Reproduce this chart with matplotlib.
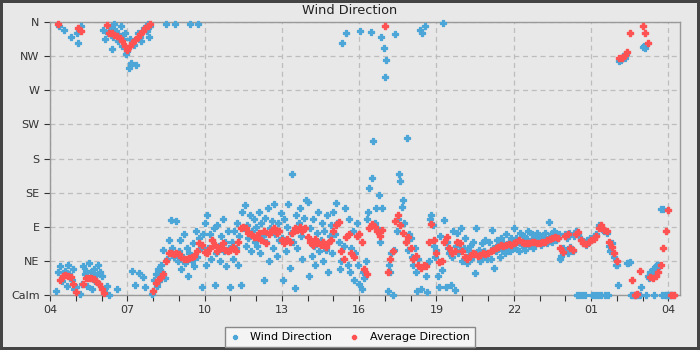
import numpy as np
import matplotlib
matplotlib.use('Agg')
import matplotlib.pyplot as plt
from matplotlib.ticker import MultipleLocator

nan = np.nan

hour_labels = ['04', '07', '10', '13', '16', '19', '22', '01', '04']
dir_labels = ['Calm', 'NE', 'E', 'SE', 'S', 'SW', 'W', 'NW', 'N']

# wind direction in degrees, one sample every 3 min, one row per hour from 04:00
wind_dir = [
    [nan, nan, nan, nan, nan, 5, 30, 355, 38, 18, 25, 350, 32, 12, 40, 28, 340, 20, 35, 8],  # 04
    [10, 345, 333, 2, 355, 15, 38, 28, 32, 12, 42, 22, 30, 8, 35, 18, 26, 40, 15, 30],  # 05
    [25, 350, 5, 338, 12, 345, 0, 352, 325, 340, 358, 348, 8, 335, 342, 355, 328, 338, 345, 318],  # 06
    [322, 300, 338, 306, 32, 330, 13, 304, 345, 29, 340, 335, 24, 352, 10, 348, 358, 340, 355, 2],  # 07
    [5, 20, 28, 12, 35, 18, 40, 30, 60, 22, 357, 48, 72, 55, 99, 62, 50, 357, 97, 45],  # 08
    [58, 72, 35, 50, 80, 42, 62, 25, 55, 357, 45, 68, 38, 85, 50, 357, 75, 62, 10, 80],  # 09
    [95, 40, 105, 62, 80, 48, 72, 88, 13, 55, 92, 65, 45, 78, 100, 58, 70, 38, 85, 62],  # 10
    [11, 70, 48, 85, 62, 95, 40, 78, 13, 110, 88, 119, 65, 92, 75, 105, 58, 85, 100, 70],  # 11
    [90, 65, 110, 55, 95, 78, 20, 102, 70, 115, 45, 88, 98, 62, 120, 80, 52, 95, 72, 108],  # 12
    [75, 20, 100, 58, 90, 120, 36, 82, 160, 70, 9, 105, 62, 95, 115, 78, 48, 102, 88, 125],  # 13
    [123, 25, 88, 52, 100, 65, 40, 82, 110, 58, 72, 95, 45, 85, 60, 105, 30, 78, 92, 55],  # 14
    [110, 80, 121, 95, 70, 35, 45, 333, 65, 115, 345, 40, 100, 30, 62, 85, 20, 55, 95, 40],  # 15
    [15, 348, 8, 30, 22, 45, 100, 110, 141, 347, 154, 203, 95, 115, 88, 132, 70, 340, 115, 326],  # 16
    [287, 310, 5, 40, 30, 55, 0, 60, 344, 85, 100, 160, 150, 116, 125, 95, 70, 207, 60, 80],  # 17
    [75, 50, 40, 62, 30, 5, 48, 350, 8, 345, 38, 355, 25, 4, 45, 100, 105, 92, 65, 50],  # 18
    [60, 25, 11, 78, 33, 359, 99, 11, 70, 62, 55, 13, 50, 85, 7, 65, 82, 55, 60, 88],  # 19
    [45, 62, 75, 50, 42, 58, 65, 48, 70, 55, 29, 88, 52, 60, 45, 68, 50, 58, 72, 48],  # 20
    [55, 70, 48, 86, 62, 36, 58, 72, 66, 50, 75, 60, 68, 55, 80, 62, 70, 58, 75, 65],  # 21
    [88, 62, 75, 70, 58, 82, 66, 72, 78, 60, 74, 85, 65, 70, 80, 62, 76, 68, 82, 72],  # 22
    [72, 66, 78, 70, 82, 74, 68, 96, 76, 80, 70, 84, 78, 72, 75, 80, 48, 52, 62, 58],  # 23
    [80, 75, 55, 82, 64, 60, 58, 78, 84, 0, 80, 0, 74, 0, 68, 0, 66, 72, 70, 75],  # 00
    [74, 0, 78, 0, 80, 0, 92, 90, 0, 86, 84, 0, 82, 0, 65, 58, 68, 55, 50, 40],  # 01
    [40, 13, 308, 310, 312, 315, 313, 318, 42, 42, 43, 0, 0, 0, 0, 0, 0, 0, 0, 11],  # 02
    [327, 328, 326, 0, 25, 22, 30, 28, 35, 0, 38, 40, 40, 38, 114, 0, 114, 0, 0, 0],  # 03
    [0, 0, 0, 0, 0, nan, nan, nan, nan, nan, nan, nan, nan, nan, nan, nan, nan, nan, nan, nan],  # 04
]

# running average direction, one sample every 6 min
avg_dir = [
    [nan, nan, nan, 357, 20, 25, 26, 25, 24, 15],  # 04
    [4, 352, 348, 15, 22, 23, 22, 21, 18, 14],  # 05
    [8, 3, 356, 346, 345, 343, 342, 339, 335, 329],  # 06
    [323, 328, 333, 336, 340, 344, 348, 352, 355, 358],  # 07
    [6, 16, 20, 24, 28, 45, 55, 56, 54, 55],  # 08
    [54, 50, 48, 47, 49, 50, 52, 58, 68, 66],  # 09
    [57, 55, 62, 72, 66, 58, 62, 68, 60, 58],  # 10
    [60, 63, 58, 70, 88, 90, 88, 82, 80, 76],  # 11
    [76, 82, 72, 85, 68, 80, 86, 88, 82, 84],  # 12
    [72, 68, 74, 70, 82, 88, 86, 90, 84, 88],  # 13
    [76, 70, 66, 74, 68, 66, 70, 64, 68, 72],  # 14
    [85, 92, 96, 58, 48, 76, 80, 55, 50, 78],  # 15
    [80, 70, 35, 28, 88, 94, 90, 84, 78, 86],  # 16
    [355, 30, 48, 58, 98, 105, 92, 82, 70, 76],  # 17
    [62, 48, 52, 40, 36, 40, 38, 70, 94, 72],  # 18
    [55, 44, 45, 70, 76, 62, 55, 58, 70, 68],  # 19
    [58, 50, 48, 52, 55, 54, 52, 53, 55, 54],  # 20
    [56, 58, 60, 62, 64, 66, 65, 66, 67, 66],  # 21
    [68, 70, 72, 70, 69, 68, 69, 70, 70, 69],  # 22
    [69, 70, 70, 72, 74, 75, 76, 75, 62, 57],  # 23
    [78, 80, 62, 60, 80, 83, 72, 68, 67, 70],  # 00
    [72, 74, 78, 89, 92, 86, 84, 70, 64, 55],  # 01
    [45, 312, 313, 316, 320, 345, 20, 0, 2, 32],  # 02
    [355, 345, 332, 24, 22, 25, 30, 40, 62, 85],  # 03
    [112, 0, 0, nan, nan, nan, nan, nan, nan, nan],  # 04
]

wind = np.array(wind_dir, dtype=float).ravel()
avg = np.array(avg_dir, dtype=float).ravel()
# hours since 04:00
t_wind = np.arange(wind.size) * 3 / 60
t_avg = np.arange(avg.size) * 6 / 60

bg = '#e8e8e8'
blue = '#4ca6d8'
red = '#ff5252'

fig = plt.figure(figsize=(7, 3.5), dpi=100, facecolor=bg)
fig.patch.set_edgecolor('#444444')
fig.patch.set_linewidth(3)
ax = fig.add_axes([0.0714, 0.157, 0.9, 0.78], facecolor=bg)

# filled plus markers with a same-colour edge so they read as small blobs
ax.scatter(t_wind, wind, marker='P', s=20, color=blue, edgecolors=blue,
           linewidths=0.9, label='Wind Direction', clip_on=False, zorder=3)
ax.scatter(t_avg, avg, marker='P', s=22, color=red, edgecolors=red,
           linewidths=1.0, label='Average Direction', clip_on=False, zorder=4)

ax.set_xlim(0, 24.45)
ax.set_ylim(0, 360)
ax.set_xticks(np.arange(0, 25, 3))
ax.set_xticklabels(hour_labels)
ax.xaxis.set_minor_locator(MultipleLocator(1))
ax.set_yticks(np.arange(0, 361, 45))
ax.set_yticklabels(dir_labels)

ax.grid(True, color='#bdbdbd', linestyle=(0, (4, 3)), linewidth=0.9)
ax.set_axisbelow(True)
for s in ax.spines.values():
    s.set_color('#999999')
    s.set_linewidth(1)
ax.tick_params(axis='both', labelsize=8, colors='#333333', length=4, width=0.8)
ax.tick_params(axis='x', which='minor', length=4, width=0.8, colors='#333333')

fig.text(0.5, 1 - 11 / 350, 'Wind Direction', ha='center', va='center',
         fontsize=9.3, color='#222222')

leg = fig.legend(loc='lower center', bbox_to_anchor=(0.5, 3 / 350), ncol=2,
                 fontsize=8, frameon=True, fancybox=False, markerscale=0.5,
                 handletextpad=1.0, columnspacing=1.6, borderpad=0.45,
                 handlelength=0.8, borderaxespad=0)
leg.get_frame().set_facecolor('#f4f4f4')
leg.get_frame().set_edgecolor('#888888')
leg.get_frame().set_linewidth(1)
leg.get_frame().set_alpha(1)

fig.savefig('out.png', dpi=100, facecolor=fig.get_facecolor(), edgecolor=fig.patch.get_edgecolor())
